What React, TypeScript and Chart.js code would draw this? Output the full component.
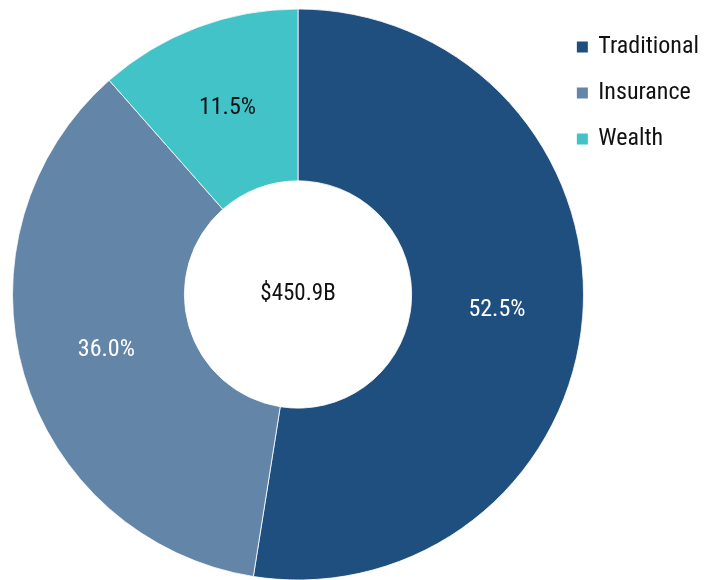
import React, { useEffect, useRef } from "react";
import { Chart, registerables } from "chart.js";

Chart.register(...registerables);

const categories = ["Traditional", "Insurance", "Wealth"];
const shares = [52.5, 36.0, 11.5];
const sliceLabels = ["52.5%", "36.0%", "11.5%"];
const centerLabel = "$450.9B";
const sliceColors = ["#1F4F7F", "#6385A7", "#41C3C8"];
const labelColors = ["#FFFFFF", "#FFFFFF", "#111111"];

const FONT = "'Roboto Condensed', 'Roboto', sans-serif";
const W = 712;
const H = 580;
const CX = 298;
const R = 285.5;

export default function App() {
  const ref = useRef<HTMLCanvasElement | null>(null);

  useEffect(() => {
    document.body.style.margin = "0";
    const canvas = ref.current;
    if (!canvas) return;

    const m = document.createElement("canvas").getContext("2d")!;
    m.font = `24px ${FONT}`;
    const maxW = Math.max(...categories.map((c) => m.measureText(c).width));
    const legendPad = 22;
    const boxW = 8;
    const padRight = 3;
    const legendWidth = legendPad + boxW + 12 + maxW + 10;
    const legendLeft = W - padRight - legendWidth;
    const padLeft = 2 * CX - legendLeft;

    const labelPlugin = {
      id: "sliceLabels",
      afterDatasetsDraw(chart: any) {
        const ctx = chart.ctx;
        const meta = chart.getDatasetMeta(0);
        ctx.save();
        ctx.textAlign = "center";
        ctx.textBaseline = "middle";
        ctx.font = `24px ${FONT}`;
        meta.data.forEach((arc: any, i: number) => {
          const p = arc.tooltipPosition();
          ctx.fillStyle = labelColors[i];
          ctx.fillText(sliceLabels[i], p.x, p.y);
        });
        const a = meta.data[0];
        ctx.font = `23px ${FONT}`;
        ctx.fillStyle = "#111111";
        ctx.fillText(centerLabel, a.x, a.y);
        ctx.restore();
      },
    };

    const chart = new Chart(canvas, {
      type: "doughnut",
      data: {
        labels: categories,
        datasets: [
          {
            data: shares,
            backgroundColor: sliceColors,
            borderColor: "#FFFFFF",
            borderWidth: 0.8,
          },
        ],
      },
      options: {
        responsive: false,
        animation: false,
        cutout: "39.8%",
        radius: R,
        layout: { padding: { left: padLeft, top: 13, bottom: 4, right: padRight } },
        plugins: {
          tooltip: { enabled: false },
          legend: {
            position: "right",
            align: "start",
            labels: {
              boxWidth: boxW,
              boxHeight: 8,
              padding: legendPad,
              color: "#111111",
              font: { family: FONT, size: 24 },
              generateLabels: (ch: any) =>
                ch.data.labels.map((t: string, i: number) => ({
                  text: t,
                  fillStyle: sliceColors[i],
                  strokeStyle: sliceColors[i],
                  lineWidth: 3,
                  fontColor: "#111111",
                  hidden: false,
                  index: i,
                })),
            },
          },
        },
      },
      plugins: [labelPlugin],
    });
    return () => chart.destroy();
  }, []);

  return (
    <div style={{ position: "absolute", left: 0, top: 0, width: W, height: H }}>
      <canvas ref={ref} width={W} height={H} style={{ width: W, height: H }} />
    </div>
  );
}
